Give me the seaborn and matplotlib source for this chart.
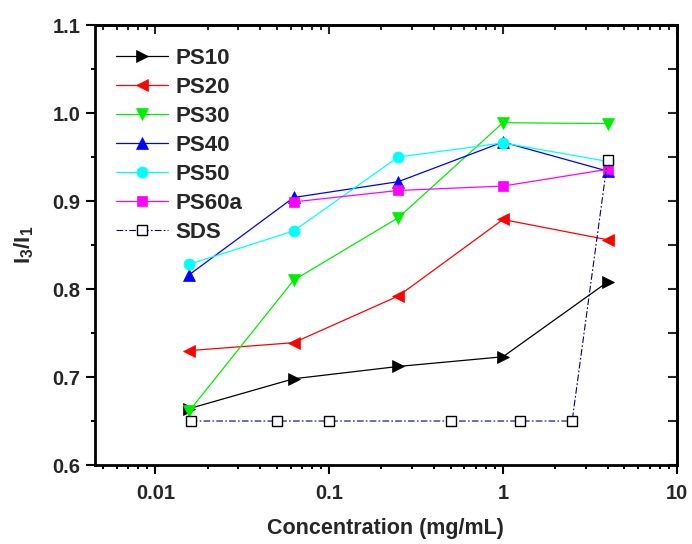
import numpy as np
import pandas as pd
import seaborn as sns
import matplotlib.pyplot as plt
import matplotlib.ticker as mtick

# concentrations (mg/mL)
x_ps = [0.015625, 0.0625, 0.25, 1, 4]
x_ps60a = [0.0625, 0.25, 1, 4]
x_sds = [0.016, 0.05, 0.1, 0.5, 1.25, 2.5, 4]

# I3/I1 ratios
ps10 = [0.664, 0.698, 0.712, 0.723, 0.808]
ps20 = [0.730, 0.739, 0.792, 0.879, 0.856]
ps30 = [0.661, 0.810, 0.881, 0.989, 0.988]
ps40 = [0.816, 0.904, 0.922, 0.967, 0.934]
ps50 = [0.828, 0.866, 0.950, 0.966, 0.945]
ps60a = [0.899, 0.912, 0.917, 0.936]
sds = [0.650, 0.650, 0.650, 0.650, 0.650, 0.650, 0.947]

x_ticks = [0.01, 0.1, 1, 10]
x_ticklabels = ["0.01", "0.1", "1", "10"]
y_ticks = [0.6, 0.7, 0.8, 0.9, 1.0, 1.1]


def main():
    sns.set_style("ticks")
    plt.rcParams['font.family'] = ['Liberation Sans', 'DejaVu Sans']
    plt.rcParams['font.weight'] = 'bold'
    plt.rcParams['mathtext.default'] = 'regular'

    fig, ax = plt.subplots(figsize=(6.92, 5.44), dpi=100)
    fig.subplots_adjust(left=0.1373, right=0.978, top=0.954, bottom=0.1452)

    series = [
        ("PS10", x_ps, ps10, "black", ">", 8.3),
        ("PS20", x_ps, ps20, "#ff0000", "<", 8.3),
        ("PS30", x_ps, ps30, "#00ee00", "v", 8.3),
        ("PS40", x_ps, ps40, "#0000ff", "^", 8.3),
        ("PS50", x_ps, ps50, "#00ffff", "o", 8),
        ("PS60a", x_ps60a, ps60a, "#ff00ff", "s", 6.8),
    ]
    for name, xs, ys, col, mk, ms in series:
        df = pd.DataFrame({"conc": xs, "ratio": ys})
        sns.lineplot(data=df, x="conc", y="ratio", ax=ax, color=col, marker=mk,
                     ms=ms, mec=col, mfc=col, mew=0.5, lw=0.9, label=name,
                     sort=False)

    df_sds = pd.DataFrame({"conc": x_sds, "ratio": sds})
    sns.lineplot(data=df_sds, x="conc", y="ratio", ax=ax, color="#000080",
                 marker="s", ms=6.5, mec="black", mfc="white", mew=1.0, lw=0.8,
                 linestyle=(0, (6, 2, 1.5, 2)), label="SDS", sort=False)

    ax.set_xscale("log")
    ax.set_xlim(0.0045, 10)
    ax.set_ylim(0.6, 1.1)
    ax.set_xticks(x_ticks)
    ax.set_xticklabels(x_ticklabels)
    ax.xaxis.set_minor_locator(mtick.LogLocator(base=10, subs=np.arange(2, 10)))
    ax.xaxis.set_minor_formatter(mtick.NullFormatter())
    ax.set_yticks(y_ticks)
    ax.yaxis.set_major_formatter(mtick.FormatStrFormatter("%.1f"))
    ax.yaxis.set_minor_locator(mtick.MultipleLocator(0.05))

    for s in ax.spines.values():
        s.set_visible(True)
        s.set_linewidth(2)
        s.set_color("black")

    ax.tick_params(which="major", direction="out", length=6.5, width=1.5,
                   labelsize=14.5, pad=4, color="black")
    ax.tick_params(axis="x", which="major", pad=7)
    ax.tick_params(which="minor", direction="out", length=3, width=1.5,
                   color="black")
    ax.tick_params(top=False, right=False, which="both")

    top = ax.secondary_xaxis("top")
    top.set_xticks(x_ticks)
    top.xaxis.set_minor_locator(mtick.LogLocator(base=10, subs=np.arange(2, 10)))
    top.tick_params(which="major", direction="in", length=6.5, width=1.5,
                    labeltop=False)
    top.tick_params(which="minor", direction="in", length=3.5, width=1.5)
    top.spines["top"].set_linewidth(2)

    right = ax.secondary_yaxis("right")
    right.set_yticks(y_ticks)
    right.yaxis.set_minor_locator(mtick.MultipleLocator(0.05))
    right.tick_params(which="both", direction="in", length=6.5, width=1.5,
                      labelright=False)
    right.spines["right"].set_linewidth(2)

    ax.set_xlabel("Concentration (mg/mL)", fontsize=15.5, fontweight="bold",
                  labelpad=11)
    ax.set_ylabel(r"$\mathregular{I_3/I_1}$", fontsize=16, fontweight="bold",
                  labelpad=12)

    ax.legend(loc="upper left", bbox_to_anchor=(0.036, 0.948), frameon=False,
              fontsize=16, borderpad=0, borderaxespad=0, handlelength=2.35,
              handletextpad=0.33, labelspacing=0.36, numpoints=1)

    plt.savefig("out.png", dpi=100)


if __name__ == "__main__":
    main()
